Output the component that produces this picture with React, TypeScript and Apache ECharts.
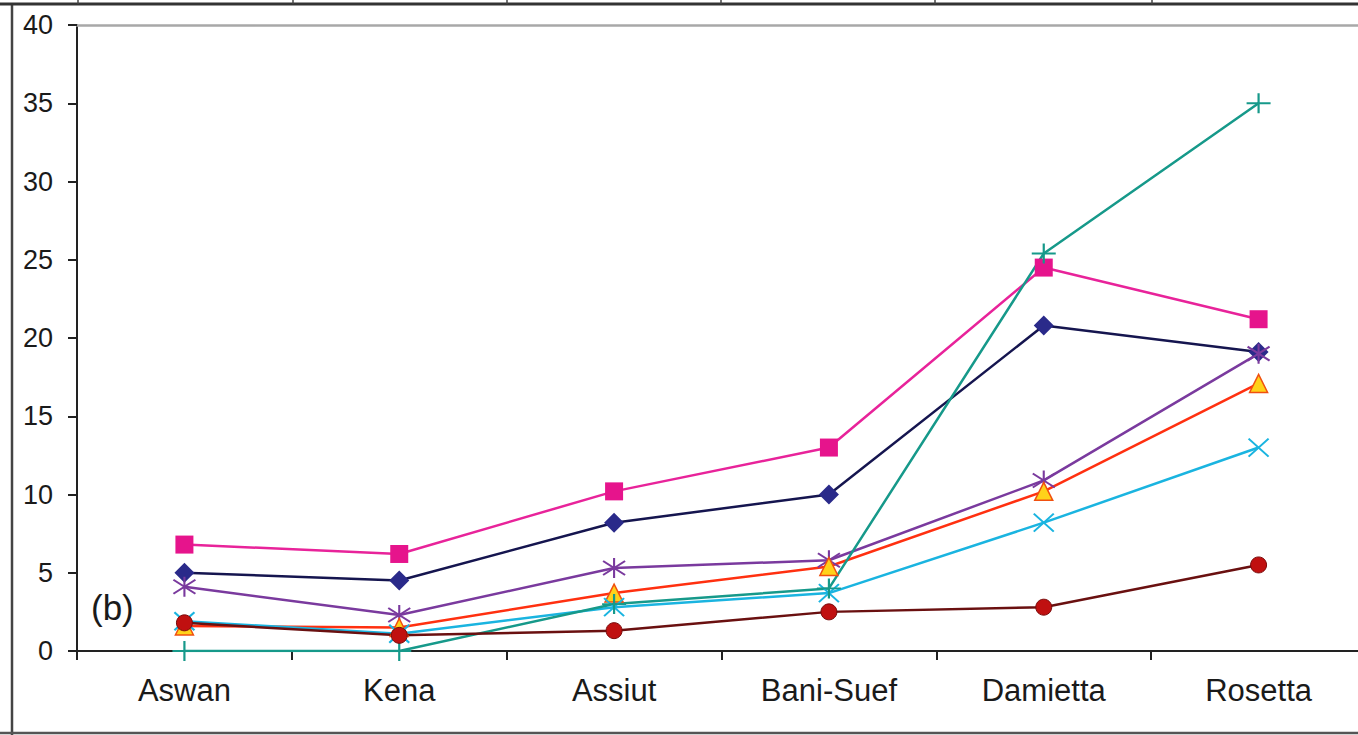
import React, { useEffect, useRef } from "react";
import * as echarts from "echarts";

const categories = ["Aswan", "Kena", "Assiut", "Bani-Suef", "Damietta", "Rosetta"];
const yTicks = [0, 5, 10, 15, 20, 25, 30, 35, 40];

const pinkSquare = [6.8, 6.2, 10.2, 13.0, 24.5, 21.2];
const navyDiamond = [5.0, 4.5, 8.2, 10.0, 20.8, 19.1];
const redTriangle = [1.6, 1.5, 3.7, 5.4, 10.2, 17.1];
const cyanCross = [1.9, 1.1, 2.8, 3.7, 8.2, 13.0];
const purpleStar = [4.1, 2.3, 5.3, 5.8, 10.9, 19.0];
const tealPlus = [0, 0, 3.0, 4.0, 25.4, 35.0];
const darkRedCircle = [1.8, 1.0, 1.3, 2.5, 2.8, 5.5];

const FONT = "'Liberation Sans', Arial, sans-serif";

export default function App() {
  const ref = useRef<HTMLDivElement>(null);
  useEffect(() => {
    if (!ref.current) return;
    const chart = echarts.init(ref.current, null, { renderer: "svg" });
    const stroked = (name: string, data: number[], color: string, path: string, size: number | number[]) => ({
      name,
      type: "line",
      data,
      symbol: path,
      symbolSize: size,
      symbolKeepAspect: false,
      lineStyle: { color, width: 2.5 },
      itemStyle: { color: "rgba(0,0,0,0)", borderColor: color, borderWidth: 2 },
      z: 3,
    });
    chart.setOption({
      animation: false,
      backgroundColor: "#ffffff",
      grid: { left: 77, top: 25, width: 1289, height: 626, containLabel: false },
      xAxis: [
        {
          type: "category",
          data: categories,
          boundaryGap: true,
          position: "bottom",
          axisLine: { lineStyle: { color: "#222", width: 2 } },
          axisTick: { show: true, length: 9, inside: false, lineStyle: { color: "#222", width: 2 } },
          axisLabel: { color: "#1a1a1a", fontSize: 31, fontFamily: FONT, margin: 24 },
          splitLine: { show: false },
        },
        {
          type: "category",
          data: categories,
          position: "top",
          axisLine: { lineStyle: { color: "#a8a8a8", width: 2.5 } },
          axisTick: { show: false },
          axisLabel: { show: false },
          splitLine: { show: false },
        },
      ],
      yAxis: {
        type: "value",
        min: yTicks[0],
        max: yTicks[yTicks.length - 1],
        interval: 5,
        axisLine: { show: true, lineStyle: { color: "#222", width: 2 } },
        axisTick: { show: true, length: 9, lineStyle: { color: "#222", width: 2 } },
        axisLabel: { color: "#1a1a1a", fontSize: 27, fontFamily: FONT, margin: 24 },
        splitLine: { show: false },
      },
      series: [
        {
          name: "Pink",
          type: "line",
          data: pinkSquare,
          symbol: "rect",
          symbolSize: 18,
          lineStyle: { color: "#e8239a", width: 2.5 },
          itemStyle: { color: "#e6148c", borderWidth: 0 },
        },
        {
          name: "Navy",
          type: "line",
          data: navyDiamond,
          symbol: "diamond",
          symbolSize: 20,
          lineStyle: { color: "#15154f", width: 2.5 },
          itemStyle: { color: "#2a2a8a", borderWidth: 0 },
        },
        stroked("Purple", purpleStar, "#7a3a9e", "path://M5,0 L5,10 M0.7,1.5 L9.3,8.5 M9.3,1.5 L0.7,8.5", [22, 20]),
        {
          name: "Red",
          type: "line",
          data: redTriangle,
          symbol: "triangle",
          symbolSize: 18,
          lineStyle: { color: "#ff3010", width: 2.5 },
          itemStyle: { color: "#ffd21a", borderColor: "#f05010", borderWidth: 1.5 },
        },
        stroked("Cyan", cyanCross, "#1ab4e0", "path://M0,0 L10,10 M10,0 L0,10", [20, 18]),
        stroked("Teal", tealPlus, "#16998a", "path://M5,0 L5,10 M0,5 L10,5", [24, 20]),
        {
          name: "DarkRed",
          type: "line",
          data: darkRedCircle,
          symbol: "circle",
          symbolSize: 16,
          lineStyle: { color: "#6a1010", width: 2.5 },
          itemStyle: { color: "#c01010", borderColor: "#7a0a0a", borderWidth: 1 },
        },
      ],
      graphic: [
        { type: "line", shape: { x1: 12, y1: 3, x2: 12, y2: 735 }, style: { stroke: "#444", lineWidth: 2.5 } },
        { type: "line", shape: { x1: 0, y1: 4, x2: 1372, y2: 4 }, style: { stroke: "#333", lineWidth: 3 } },
        { type: "line", shape: { x1: 0, y1: 733, x2: 1372, y2: 733 }, style: { stroke: "#555", lineWidth: 2.5 } },
        { type: "line", shape: { x1: 78, y1: 0, x2: 78, y2: 4 }, style: { stroke: "#444", lineWidth: 1.5 } },
        { type: "line", shape: { x1: 293, y1: 0, x2: 293, y2: 4 }, style: { stroke: "#444", lineWidth: 1.5 } },
        { type: "line", shape: { x1: 507, y1: 0, x2: 507, y2: 4 }, style: { stroke: "#444", lineWidth: 1.5 } },
        { type: "line", shape: { x1: 721, y1: 0, x2: 721, y2: 4 }, style: { stroke: "#444", lineWidth: 1.5 } },
        { type: "line", shape: { x1: 935, y1: 0, x2: 935, y2: 4 }, style: { stroke: "#444", lineWidth: 1.5 } },
        { type: "line", shape: { x1: 1152, y1: 0, x2: 1152, y2: 4 }, style: { stroke: "#444", lineWidth: 1.5 } },
        {
          type: "text",
          left: 91,
          top: 590,
          style: { text: "(b)", fontSize: 35, fontFamily: FONT, fill: "#1a1a1a" },
          z: 10,
        },
      ],
    });
    return () => chart.dispose();
  }, []);
  return (
    <div
      ref={ref}
      style={{ position: "fixed", left: 0, top: 0, width: 1372, height: 735, background: "#fff" }}
    />
  );
}
